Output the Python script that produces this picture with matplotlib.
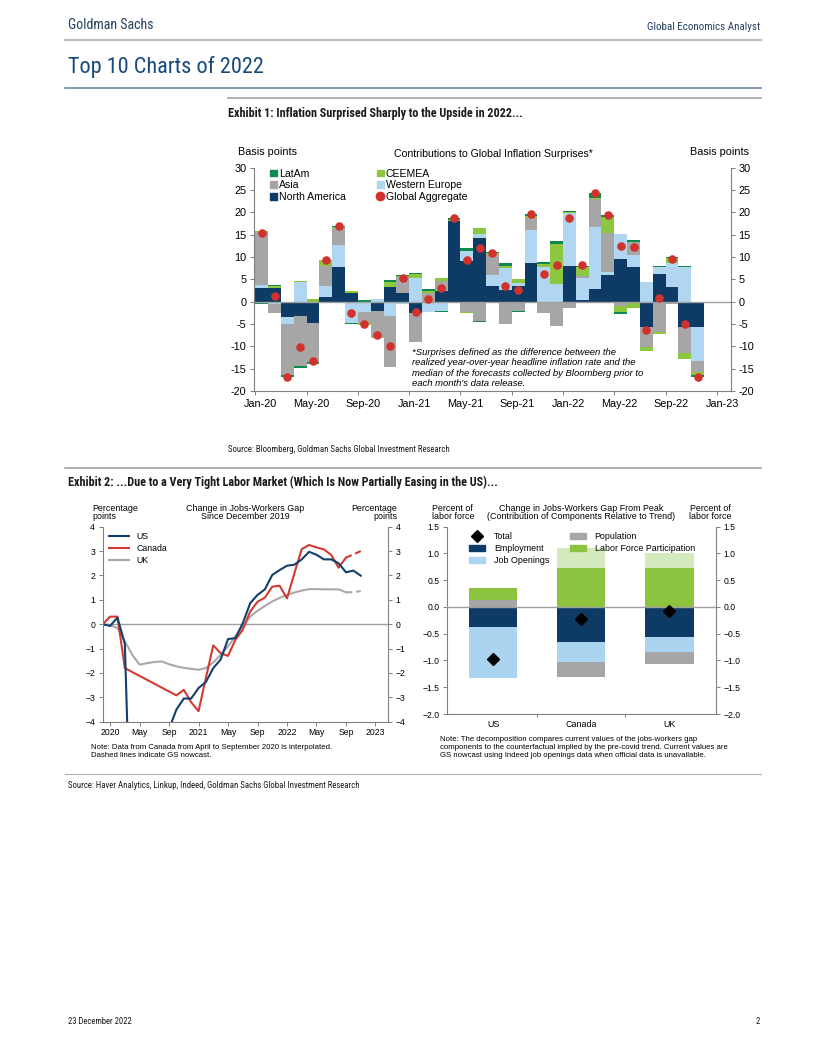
import numpy as np
import matplotlib
matplotlib.use('Agg')
import matplotlib.pyplot as plt
from matplotlib.patches import Patch
from matplotlib.lines import Line2D

plt.rcParams['font.family'] = ['Liberation Sans', 'DejaVu Sans']
NARROW = ['Roboto Condensed', 'Liberation Sans Narrow', 'Liberation Sans']

W, H = 829, 1051

# ---------------- Exhibit 1: inflation surprises, basis points, Jan-20 .. Nov-22
tick_labels_1 = ['Jan-20', 'May-20', 'Sep-20', 'Jan-21', 'May-21', 'Sep-21',
                 'Jan-22', 'May-22', 'Sep-22', 'Jan-23']
north_america = [3.0, 3.0, -3.4, -3.2, -4.7, 1.1, 7.7, 2.0, 0.0, -2.1, 3.2, 2.0,
                 -2.6, 0.0, 2.5, 18.1, 9.0, 14.3, 3.4, 2.6, 3.4, 8.7, 0.0, 0.0,
                 8.0, 0.3, 2.8, 6.0, 9.6, 7.8, -5.6, 6.3, 3.2, -5.7, -5.7]
western_europe = [0.7, -0.5, -1.5, 4.3, 0.0, 2.4, 5.0, -4.7, -2.2, 0.5, -3.2, -0.5,
                  5.2, -2.2, -2.0, 0.0, 2.4, 0.8, 2.6, 4.9, 0.7, 7.3, 7.8, 4.0,
                  11.8, 4.9, 14.0, 0.7, 5.5, 2.6, 4.3, 1.4, 5.4, 7.7, -7.5]
asia = [12.0, -2.1, -11.5, -11.2, -8.9, 4.5, 3.7, 0.0, -2.5, -5.7, -11.5, 3.5,
        -6.4, 2.0, 2.2, 0.0, -2.2, -4.3, 4.4, -4.9, -2.0, 2.7, -2.6, -5.4,
        -1.5, 0.6, 6.3, 8.6, -0.9, 3.0, -4.6, -6.7, -0.5, -5.9, -2.5]
ceemea = [0.2, 0.4, 0.0, 0.3, 0.5, 1.4, 0.3, 0.3, -0.5, -0.4, 1.3, 0.3,
          0.9, 0.4, 0.5, 0.3, -0.4, 1.4, 0.4, 0.6, 0.9, 0.4, 0.6, 9.0,
          0.3, 1.9, 0.2, 3.6, -1.3, -1.5, -0.8, -0.5, 1.1, -1.3, -0.7]
latam = [-0.5, 0.4, -0.5, -0.4, -0.4, -0.1, 0.3, -0.2, 0.4, 0.2, 0.4, 0.2,
         0.4, 0.4, -0.2, 0.3, 0.6, -0.2, 0.3, 0.5, -0.4, 0.5, 0.5, 0.6,
         0.3, 0.4, 1.0, 0.5, -0.6, 0.4, 0.2, 0.3, 0.4, 0.3, -0.5]
global_aggregate = [15.4, 1.3, -16.8, -10.2, -13.3, 9.3, 16.9, -2.6, -4.9, -7.5, -9.9, 5.4,
                    -2.4, 0.6, 3.0, 18.7, 9.4, 12.1, 11.0, 3.6, 2.6, 19.6, 6.2, 8.2,
                    18.8, 8.2, 24.4, 19.5, 12.5, 12.2, -6.3, 0.9, 9.6, -4.9, -16.9]

# ---------------- Exhibit 2 (left): jobs-workers gap, pp, Dec-19 .. Nov-22
tick_labels_2 = ['2020', 'May', 'Sep', '2021', 'May', 'Sep', '2022', 'May', 'Sep', '2023']
us_gap = [0.0, -0.07, 0.27, -0.8, -10.8, -10.0, -8.0, -6.3, -5.0, -4.3, -3.5, -3.05,
          -3.05, -2.62, -2.37, -1.8, -1.45, -0.61, -0.57, 0.04, 0.86, 1.2, 1.43, 2.02,
          2.22, 2.4, 2.44, 2.66, 2.97, 2.85, 2.66, 2.66, 2.5, 2.13, 2.2, 1.99]
# Apr-Sep 2020 not shown for Canada (interpolated in the source chart)
canada_gap = [0.0, 0.31, 0.31, -1.8, None, None, None, None, None, None, -2.92, -2.69,
              -3.2, -3.57, -2.2, -0.87, -1.19, -1.3, -0.64, -0.23, 0.52, 0.92, 1.09, 1.54,
              1.58, 1.06, 2.09, 3.08, 3.25, 3.15, 3.07, 2.84, 2.32, 2.73, 2.86, 3.0]
uk_gap = [0.0, -0.03, -0.16, -0.7, -1.25, -1.66, -1.6, -1.55, -1.53, -1.64, -1.73, -1.79,
          -1.83, -1.87, -1.8, -1.57, -1.26, -0.91, -0.5, -0.1, 0.31, 0.55, 0.75, 0.93,
          1.08, 1.2, 1.3, 1.38, 1.44, 1.44, 1.43, 1.43, 1.43, 1.31, 1.31, 1.36]
nowcast_from = 33

# ---------------- Exhibit 2 (right): change from peak, % of labor force
countries = ['US', 'Canada', 'UK']
employment = [-0.38, -0.65, -0.57]
job_openings = [-0.95, -0.37, -0.27]
population = [0.13, -0.29, -0.23]
participation = [0.22, 0.72, 0.72]
participation_extra = [0.0, 0.38, 0.28]
total_change = [-0.98, -0.22, -0.07]

NAVY = '#0d3b66'
LBLUE = '#b0d6f1'
GRAY = '#a6a6a6'
LGREEN = '#8dc63f'
DGREEN = '#0f8a4c'
RED = '#d2322d'
SPINE = '#808080'


def fx(x):
    return x / W


def fy(y):
    return 1 - y / H


def hline(x0, x1, y, color, lw):
    fig.add_artist(Line2D([fx(x0), fx(x1)], [fy(y), fy(y)], transform=fig.transFigure,
                          color=color, linewidth=lw))


def stacked(ax, x, series, width):
    n = len(x)
    pos = np.zeros(n)
    neg = np.zeros(n)
    for vals, col in series:
        v = np.array(vals, dtype=float)
        bottom = np.where(v >= 0, pos, neg)
        ax.bar(x, v, width=width, bottom=bottom, color=col, linewidth=0)
        pos += np.clip(v, 0, None)
        neg += np.clip(v, None, 0)


fig = plt.figure(figsize=(W / 100, H / 100), dpi=100)

# ---------------- page furniture
fig.text(fx(68), fy(25), 'Goldman Sachs', family=NARROW, fontsize=10, color='#22405f',
         va='center', ha='left')
fig.text(fx(760), fy(27), 'Global Economics Analyst', family=NARROW, fontsize=7.9,
         color='#22405f', va='center', ha='right')
hline(65, 761, 40, '#bfbfbf', 1.6)
fig.text(fx(68), fy(67), 'Top 10 Charts of 2022', family=NARROW, fontsize=16,
         color='#174a7c', va='center', ha='left')
hline(65, 761, 88, '#5b7a99', 1.1)
hline(228, 761, 97.5, '#9a9a9a', 1.1)
fig.text(fx(228), fy(113), 'Exhibit 1: Inflation Surprised Sharply to the Upside in 2022...',
         family=NARROW, fontsize=8.7, fontweight='bold', color='#1a1a1a', va='center')
fig.text(fx(228), fy(449), 'Source: Bloomberg, Goldman Sachs Global Investment Research',
         family=NARROW, fontsize=6.3, color='#1a1a1a', va='center')
hline(65, 761, 468, '#9a9a9a', 1.1)
fig.text(fx(68), fy(482), 'Exhibit 2: ...Due to a Very Tight Labor Market (Which Is Now '
         'Partially Easing in the US)...', family=NARROW, fontsize=8.7, fontweight='bold',
         color='#1a1a1a', va='center')
hline(65, 761, 774, '#b0b0b0', 0.8)
fig.text(fx(68), fy(786), 'Source: Haver Analytics, Linkup, Indeed, Goldman Sachs Global '
         'Investment Research', family=NARROW, fontsize=6.3, color='#1a1a1a', va='center')
fig.text(fx(68), fy(1021), '23 December 2022', family=NARROW, fontsize=6.2,
         color='#1a1a1a', va='center')
fig.text(fx(760), fy(1021), '2', family=NARROW, fontsize=6.2, color='#1a1a1a',
         va='center', ha='right')

# ---------------- Exhibit 1 chart
ax1 = fig.add_axes([fx(254), fy(391), (731 - 254) / W, (391 - 167.7) / H])
months = np.arange(len(global_aggregate))
stacked(ax1, months, [(north_america, NAVY), (western_europe, LBLUE), (asia, GRAY),
                      (ceemea, LGREEN), (latam, DGREEN)], 1.0)
ax1.axhline(0, color='#a0a0a0', linewidth=1.0, zorder=1)
ax1.scatter(months, global_aggregate, s=38, color=RED, zorder=5, linewidths=0)
ax1.set_xlim(-0.6, 36.6)
ax1.set_ylim(-20, 30)
yt = np.arange(-20, 31, 5)
ax1.set_yticks(yt)
ax1.set_yticklabels([str(v) for v in yt])
ax1.tick_params(axis='y', which='both', direction='out', length=3, width=0.7,
                color=SPINE, labelsize=7.8, left=True, right=True,
                labelleft=True, labelright=True, pad=2.5)
tick_pos = np.arange(0, 37, 4) - 0.5
ax1.set_xticks(tick_pos)
ax1.set_xticklabels([])
ax1.set_xticks(tick_pos + 0.4, minor=True)
ax1.set_xticklabels(tick_labels_1, minor=True)
ax1.tick_params(axis='x', which='major', direction='out', length=3, width=0.7, color=SPINE)
ax1.tick_params(axis='x', which='minor', length=0, labelsize=7.8, pad=6)
ax1.spines['top'].set_visible(False)
for s in ['left', 'right', 'bottom']:
    ax1.spines[s].set_color(SPINE)
    ax1.spines[s].set_linewidth(0.8)
handles1 = [Patch(color=DGREEN, label='LatAm'), Patch(color=GRAY, label='Asia'),
            Patch(color=NAVY, label='North America'), Patch(color=LGREEN, label='CEEMEA'),
            Patch(color=LBLUE, label='Western Europe'),
            Line2D([], [], marker='o', color=RED, linestyle='', markersize=6,
                   label='Global Aggregate')]
ax1.legend(handles=handles1, ncol=2, loc='upper left', bbox_to_anchor=(0.034, 0.995),
           frameon=False, fontsize=7.6, handlelength=0.6, handleheight=0.6,
           handletextpad=0.2, labelspacing=0.15, columnspacing=3.0, borderpad=0,
           borderaxespad=0)
fig.text(fx(238), fy(152), 'Basis points', fontsize=7.8, va='center', ha='left')
fig.text(fx(749), fy(152), 'Basis points', fontsize=7.8, va='center', ha='right')
fig.text(fx(493), fy(154), 'Contributions to Global Inflation Surprises*', fontsize=7.6,
         va='center', ha='center')
note1 = ['*Surprises defined as the difference between the',
         'realized year-over-year headline inflation rate and the',
         'median of the forecasts collected by Bloomberg prior to',
         "each month's data release."]
for k, line in enumerate(note1):
    fig.text(fx(412), fy(352.3 + 10.5 * k), line, fontsize=6.8, style='italic', va='center')

# ---------------- Exhibit 2 left chart
ax2 = fig.add_axes([fx(102.7), fy(721.7), (388 - 102.7) / W, (721.7 - 526.7) / H])
m = np.arange(len(us_gap))
ax2.axhline(0, color='#a0a0a0', linewidth=1.0, zorder=1)
uk = np.array(uk_gap)
ca_m = np.array([i for i, v in enumerate(canada_gap) if v is not None])
ca_v = np.array([v for v in canada_gap if v is not None])
ax2.plot(m[:nowcast_from + 1], uk[:nowcast_from + 1], color='#a9a9a9', lw=1.5, label='UK')
ax2.plot(m[nowcast_from:], uk[nowcast_from:], color='#a9a9a9', lw=1.5, ls=(0, (3, 1.8)))
sol = ca_m <= nowcast_from
ax2.plot(ca_m[sol], ca_v[sol], color='#d33a34', lw=1.5, label='Canada')
ax2.plot(ca_m[ca_m >= nowcast_from], ca_v[ca_m >= nowcast_from], color='#d33a34', lw=1.5,
         ls=(0, (3, 1.8)))
ax2.plot(m, us_gap, color='#133f6b', lw=1.5, label='US')
ax2.set_xlim(0, 38.7)
ax2.set_ylim(-4, 4)
ax2.set_yticks(np.arange(-4, 5, 1))
ax2.set_xticks(np.arange(1, 38, 4))
ax2.set_xticklabels(tick_labels_2)
ax2.tick_params(axis='y', direction='out', length=3, width=0.7, color=SPINE, labelsize=6.2,
                left=True, right=True, labelleft=True, labelright=True, pad=2.5)
ax2.tick_params(axis='x', direction='out', length=3, width=0.7, color=SPINE, labelsize=6.2,
                pad=1.5)
ax2.spines['top'].set_visible(False)
for s in ['left', 'right', 'bottom']:
    ax2.spines[s].set_color(SPINE)
    ax2.spines[s].set_linewidth(0.8)
h2, l2 = ax2.get_legend_handles_labels()
order = [l2.index('US'), l2.index('Canada'), l2.index('UK')]
ax2.legend([h2[i] for i in order], [l2[i] for i in order], loc='upper left',
           bbox_to_anchor=(0.023, 0.975), frameon=False, fontsize=6.3, handlelength=2.3,
           handletextpad=0.8, labelspacing=0.35, borderpad=0, borderaxespad=0)
fig.text(fx(92), fy(508.3), 'Percentage', fontsize=6.4, va='center', ha='left')
fig.text(fx(92), fy(516.3), 'points', fontsize=6.4, va='center', ha='left')
fig.text(fx(245), fy(508.3), 'Change in Jobs-Workers Gap', fontsize=6.4, va='center',
         ha='center')
fig.text(fx(245), fy(516.3), 'Since December 2019', fontsize=6.4, va='center', ha='center')
fig.text(fx(397.5), fy(508.3), 'Percentage', fontsize=6.4, va='center', ha='right')
fig.text(fx(397.5), fy(516.3), 'points', fontsize=6.4, va='center', ha='right')
fig.text(fx(91), fy(747.6), 'Note: Data from Canada from April to September 2020 is '
         'interpolated.', fontsize=5.6, va='center')
fig.text(fx(91), fy(755.7), 'Dashed lines indicate GS nowcast.', fontsize=5.6, va='center')

# ---------------- Exhibit 2 right chart
ax3 = fig.add_axes([fx(447.3), fy(714), (716 - 447.3) / W, (714 - 526.7) / H])
xc = np.arange(len(countries))
stacked(ax3, xc, [(employment, NAVY), (job_openings, '#abd4f0'), (population, GRAY),
                  (participation, '#8cc43f'), (participation_extra, '#d4eabc')], 0.55)
ax3.axhline(0, color='#a0a0a0', linewidth=1.0, zorder=3)
ax3.plot(xc, total_change, linestyle='', marker='D', color='black', markersize=6, zorder=5)
ax3.set_xlim(-0.52, 2.53)
ax3.set_ylim(-2.0, 1.5)
ax3.set_yticks(np.arange(-2.0, 1.51, 0.5))
ax3.set_xticks(xc)
ax3.set_xticklabels(countries)
ax3.set_xticks([0.5, 1.5], minor=True)
ax3.tick_params(axis='x', which='major', length=0, labelsize=6.4, pad=4)
ax3.tick_params(axis='x', which='minor', direction='out', length=2.5, width=0.7,
                color=SPINE)
ax3.tick_params(axis='y', direction='out', length=3, width=0.7, color=SPINE, labelsize=6.2,
                left=True, right=True, labelleft=True, labelright=True, pad=2.5)
ax3.spines['top'].set_visible(False)
for s in ['left', 'right', 'bottom']:
    ax3.spines[s].set_color(SPINE)
    ax3.spines[s].set_linewidth(0.8)
handles3 = [Line2D([], [], marker='D', color='black', linestyle='', markersize=6,
                   label='Total'),
            Patch(color=NAVY, label='Employment'), Patch(color='#abd4f0', label='Job Openings'),
            Patch(color=GRAY, label='Population'),
            Patch(color='#8cc43f', label='Labor Force Participation')]
ax3.legend(handles=handles3, ncol=2, loc='upper left', bbox_to_anchor=(0.081, 0.973),
           frameon=False, fontsize=6.4, handlelength=1.8, handleheight=0.7,
           handletextpad=1.0, labelspacing=0.35, columnspacing=2.3, borderpad=0,
           borderaxespad=0)
fig.text(fx(432), fy(508.3), 'Percent of', fontsize=6.4, va='center', ha='left')
fig.text(fx(432), fy(516.3), 'labor force', fontsize=6.4, va='center', ha='left')
fig.text(fx(581.5), fy(508.3), 'Change in Jobs-Workers Gap From Peak', fontsize=6.4,
         va='center', ha='center')
fig.text(fx(581.5), fy(516.3), '(Contribution of Components Relative to Trend)',
         fontsize=6.4, va='center', ha='center')
fig.text(fx(710), fy(508.3), 'Percent of', fontsize=6.4, va='center', ha='center')
fig.text(fx(710), fy(516.3), 'labor force', fontsize=6.4, va='center', ha='center')
note3 = ['Note: The decomposition compares current values of the jobs-workers gap',
         'components to the counterfactual implied by the pre-covid trend. Current values are',
         'GS nowcast using Indeed job openings data when official data is unavailable.']
for k, line in enumerate(note3):
    fig.text(fx(440), fy(739.5 + 8.1 * k), line, fontsize=5.6, va='center')

fig.savefig('out.png', dpi=100)
